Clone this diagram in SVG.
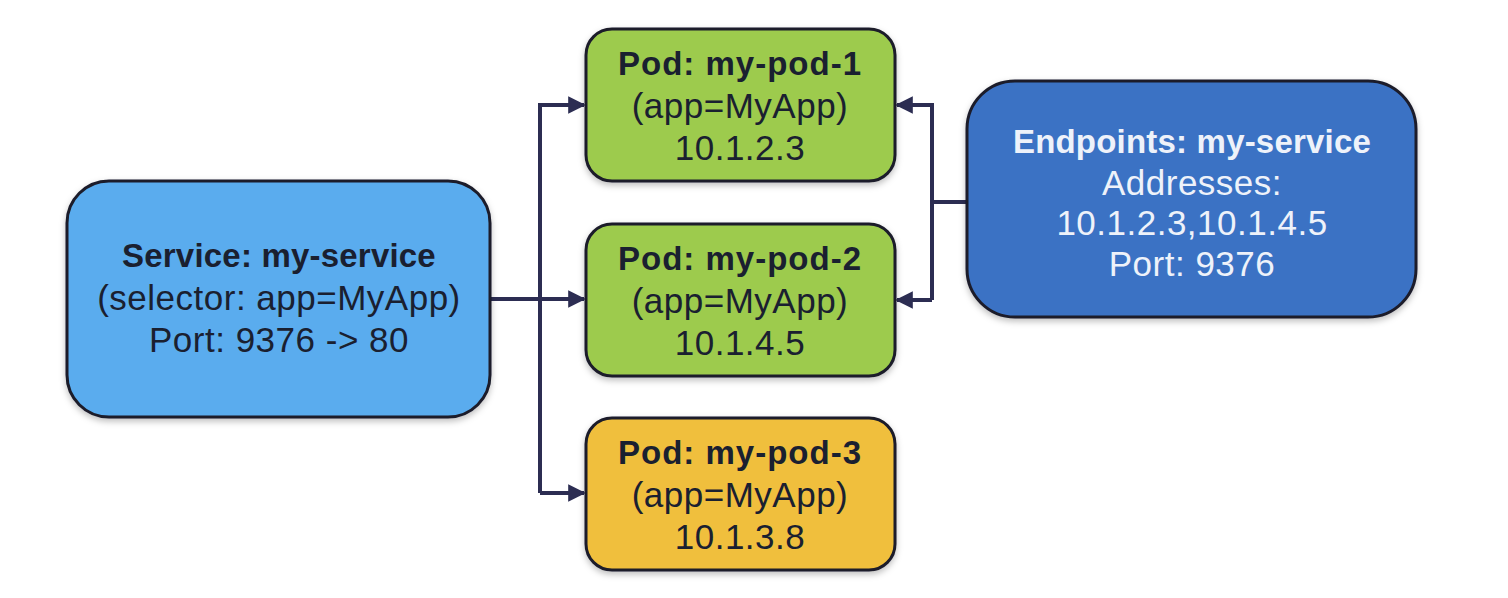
<svg xmlns="http://www.w3.org/2000/svg" width="1508" height="598" viewBox="0 0 1508 598">
<style>
.box{stroke:#1b1c2a;stroke-width:3}
.t{font-family:"Liberation Sans",Arial,sans-serif;text-anchor:middle;font-size:35px;letter-spacing:0.5px}
.b{font-weight:bold;font-size:33px;letter-spacing:0.2px}
.pb{letter-spacing:1px}
.dark{fill:#1a2030}
.light{fill:#eef2fa}
.conn{fill:none;stroke:#2c2d52;stroke-width:4}
</style>
<defs>
<marker id="ah" viewBox="0 0 10 10" refX="9" refY="5" markerWidth="4.6" markerHeight="4.4" orient="auto" markerUnits="strokeWidth">
<path d="M0,0 L10,5 L0,10 Z" fill="#2c2d52"/>
</marker>
<filter id="sh" x="-10%" y="-10%" width="120%" height="130%">
<feDropShadow dx="0" dy="3" stdDeviation="3" flood-color="#000" flood-opacity="0.25"/>
</filter>
</defs>
<rect width="1508" height="598" fill="#ffffff"/>
<g id="connectors">
<path class="conn" d="M490,299 L584,299" marker-end="url(#ah)"/>
<path class="conn" d="M540,493 L540,105 L584,105" marker-end="url(#ah)"/>
<path class="conn" d="M540,493 L584,493" marker-end="url(#ah)"/>
<path class="conn" d="M967,202 L932,202"/>
<path class="conn" d="M932,300 L932,105 L897,105" marker-end="url(#ah)"/>
<path class="conn" d="M932,300 L897,300" marker-end="url(#ah)"/>
</g>
<g id="service">
<rect class="box" x="67" y="181" width="423" height="236" rx="42" fill="#5aacee" filter="url(#sh)"/>
<text class="t b dark" x="279" y="267">Service: my-service</text>
<text class="t dark" x="279" y="310">(selector: app=MyApp)</text>
<text class="t dark" x="279" y="352">Port: 9376 -&gt; 80</text>
</g>
<g id="pod1">
<rect class="box" x="586" y="29" width="309" height="152" rx="26" fill="#9dcb4e" filter="url(#sh)"/>
<text class="t b pb dark" x="740" y="75">Pod: my-pod-1</text>
<text class="t dark" x="740" y="118">(app=MyApp)</text>
<text class="t dark" x="740" y="160">10.1.2.3</text>
</g>
<g id="pod2">
<rect class="box" x="586" y="224" width="309" height="152" rx="26" fill="#9dcb4e" filter="url(#sh)"/>
<text class="t b pb dark" x="740" y="270">Pod: my-pod-2</text>
<text class="t dark" x="740" y="313">(app=MyApp)</text>
<text class="t dark" x="740" y="355">10.1.4.5</text>
</g>
<g id="pod3">
<rect class="box" x="586" y="418" width="309" height="152" rx="26" fill="#f0bf3c" filter="url(#sh)"/>
<text class="t b pb dark" x="740" y="464">Pod: my-pod-3</text>
<text class="t dark" x="740" y="507">(app=MyApp)</text>
<text class="t dark" x="740" y="549">10.1.3.8</text>
</g>
<g id="endpoints">
<rect class="box" x="967" y="81" width="449" height="236" rx="48" fill="#3a72c4" filter="url(#sh)"/>
<text class="t b light" x="1192" y="153">Endpoints: my-service</text>
<text class="t light" x="1192" y="195">Addresses:</text>
<text class="t light" x="1192" y="235">10.1.2.3,10.1.4.5</text>
<text class="t light" x="1192" y="276">Port: 9376</text>
</g>
</svg>
